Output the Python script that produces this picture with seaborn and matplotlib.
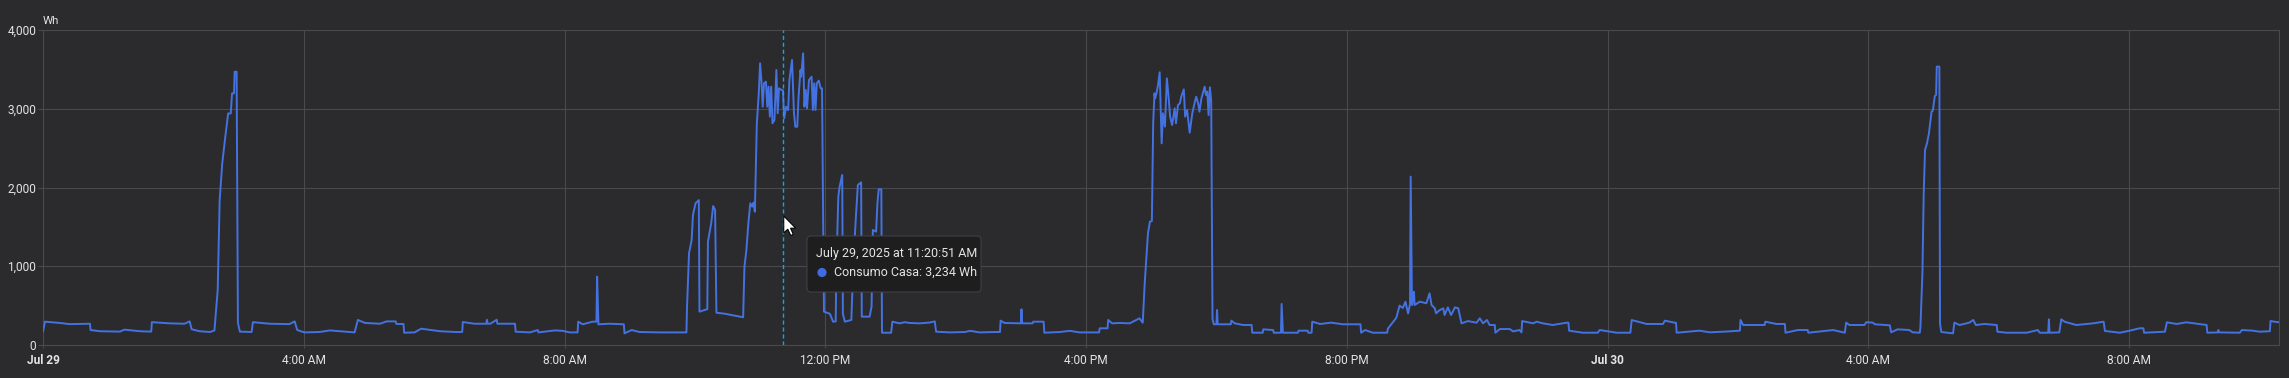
import matplotlib
matplotlib.use("Agg")
import matplotlib.pyplot as plt
import matplotlib.transforms as mtransforms
from matplotlib.patches import FancyBboxPatch, Circle, Polygon
import numpy as np
import pandas as pd
import seaborn as sns

# ---------------- data (hours since Jul 29 00:00, Wh) ----------------
hours = [
    0.00, 0.03, 0.26, 0.41, 0.72, 0.73, 0.87, 1.18, 1.25, 1.48, 1.66, 1.67, 1.94, 2.17, 2.25, 2.28,
    2.40, 2.56, 2.63, 2.68, 2.71, 2.75, 2.79, 2.84, 2.88, 2.90, 2.93, 2.94, 2.97, 2.99, 3.02, 3.20,
    3.22, 3.48, 3.78, 3.86, 3.90, 4.01, 4.24, 4.40, 4.55, 4.78, 4.83, 4.94, 5.17, 5.27, 5.41, 5.42,
    5.53, 5.54, 5.70, 5.80, 6.09, 6.32, 6.43, 6.44, 6.62, 6.80, 6.81, 6.82, 6.86, 6.96, 6.97, 7.24,
    7.25, 7.47, 7.59, 7.60, 7.85, 7.97, 8.08, 8.20, 8.21, 8.28, 8.43, 8.49, 8.50, 8.52, 8.69, 8.91,
    8.92, 9.03, 9.15, 9.46, 9.87, 9.88, 9.91, 9.95, 9.97, 10.01, 10.06, 10.07, 10.19, 10.20, 10.25, 10.28,
    10.31, 10.33, 10.46, 10.74, 10.76, 10.79, 10.82, 10.85, 10.88, 10.90, 10.92, 10.93, 10.95, 10.98, 11.00, 11.02,
    11.04, 11.06, 11.09, 11.11, 11.13, 11.15, 11.17, 11.19, 11.22, 11.25, 11.27, 11.29, 11.33, 11.35, 11.37, 11.40,
    11.43, 11.45, 11.49, 11.52, 11.54, 11.57, 11.59, 11.62, 11.63, 11.66, 11.68, 11.70, 11.72, 11.75, 11.79, 11.81,
    11.83, 11.85, 11.87, 11.90, 11.93, 11.95, 11.98, 12.07, 12.12, 12.16, 12.17, 12.20, 12.22, 12.26, 12.27, 12.30,
    12.40, 12.43, 12.47, 12.50, 12.55, 12.56, 12.68, 12.71, 12.73, 12.78, 12.80, 12.82, 12.86, 12.87, 13.01, 13.03,
    13.14, 13.22, 13.29, 13.45, 13.60, 13.68, 13.70, 13.91, 14.14, 14.22, 14.37, 14.60, 14.68, 14.69, 14.75, 15.00,
    15.01, 15.02, 15.18, 15.19, 15.35, 15.36, 15.60, 15.75, 15.90, 16.06, 16.20, 16.21, 16.33, 16.34, 16.40, 16.51,
    16.67, 16.72, 16.82, 16.87, 16.90, 16.95, 16.98, 17.01, 17.03, 17.05, 17.06, 17.08, 17.10, 17.13, 17.16, 17.18,
    17.21, 17.24, 17.27, 17.29, 17.32, 17.36, 17.38, 17.41, 17.44, 17.46, 17.50, 17.52, 17.55, 17.59, 17.63, 17.67,
    17.69, 17.72, 17.74, 17.77, 17.82, 17.84, 17.86, 17.88, 17.90, 17.92, 17.94, 17.96, 18.00, 18.01, 18.02, 18.22,
    18.23, 18.28, 18.41, 18.54, 18.55, 18.71, 18.72, 18.87, 18.88, 18.99, 19.00, 19.02, 19.25, 19.26, 19.40, 19.41,
    19.46, 19.47, 19.59, 19.76, 19.94, 20.21, 20.22, 20.28, 20.40, 20.62, 20.63, 20.76, 20.81, 20.86, 20.90, 20.94,
    20.97, 20.98, 21.00, 21.03, 21.04, 21.12, 21.22, 21.27, 21.30, 21.35, 21.37, 21.42, 21.48, 21.50, 21.55, 21.60,
    21.66, 21.71, 21.76, 21.86, 21.99, 22.04, 22.09, 22.15, 22.19, 22.27, 22.28, 22.35, 22.50, 22.55, 22.65, 22.68,
    22.69, 22.86, 22.91, 23.01, 23.16, 23.37, 23.40, 23.41, 23.62, 23.85, 23.88, 24.01, 24.14, 24.35, 24.37, 24.60,
    24.85, 24.88, 25.03, 25.05, 25.06, 25.41, 25.57, 25.80, 26.03, 26.04, 26.08, 26.41, 26.42, 26.59, 26.72, 26.73,
    26.92, 27.07, 27.08, 27.46, 27.64, 27.66, 27.71, 27.94, 27.97, 28.07, 28.10, 28.33, 28.35, 28.45, 28.63, 28.68,
    28.79, 28.80, 28.83, 28.85, 28.87, 28.90, 28.93, 28.97, 28.99, 29.02, 29.04, 29.05, 29.09, 29.10, 29.12, 29.30,
    29.32, 29.40, 29.55, 29.61, 29.65, 29.78, 29.97, 29.98, 30.12, 30.43, 30.60, 30.63, 30.76, 30.77, 30.78, 30.93,
    30.96, 31.01, 31.19, 31.45, 31.61, 31.63, 31.86, 32.01, 32.16, 32.22, 32.23, 32.55, 32.58, 32.73, 32.88, 33.19,
    33.20, 33.36, 33.37, 33.38, 33.70, 33.73, 33.90, 34.00, 34.16, 34.17, 34.23, 34.30,
]
consumo_wh = [
    170, 296, 280, 265, 270, 190, 175, 170, 195, 175, 170, 290, 275, 270, 300, 200,
    175, 165, 185, 700, 1840, 2310, 2600, 2940, 2940, 3195, 3195, 3470, 3470, 280, 170, 165,
    290, 270, 265, 300, 190, 160, 165, 185, 175, 160, 318, 280, 270, 300, 300, 267,
    267, 156, 160, 207, 175, 165, 165, 292, 270, 270, 320, 270, 270, 320, 270, 270,
    169, 160, 190, 160, 185, 180, 160, 160, 296, 263, 296, 296, 868, 263, 270, 263,
    148, 190, 165, 160, 160, 500, 1165, 1333, 1650, 1800, 1840, 423, 455, 1312, 1545, 1765,
    1714, 410, 397, 352, 995, 1206, 1545, 1800, 1757, 1808, 1693, 2053, 2815, 3196, 3577, 3365,
    3026, 3323, 3344, 3026, 3280, 2900, 3280, 2815, 2857, 3492, 2942, 3259, 3238, 3234, 2878, 3026,
    2984, 3365, 3619, 2942, 2772, 2772, 3153, 3492, 3407, 3704, 3026, 3238, 3005, 3365, 3407, 2984,
    3323, 2984, 3323, 3357, 3259, 3259, 423, 397, 296, 300, 952, 1884, 2011, 2159, 397, 296,
    318, 1036, 1630, 2032, 2066, 360, 360, 487, 1460, 1440, 1800, 1977, 1977, 156, 156, 296,
    275, 290, 280, 275, 285, 300, 169, 160, 165, 180, 160, 165, 165, 309, 280, 275,
    453, 275, 275, 296, 296, 156, 165, 180, 160, 160, 160, 212, 212, 318, 275, 280,
    275, 296, 339, 283, 783, 1418, 1566, 1575, 2815, 3196, 3132, 3196, 3280, 3463, 2561, 2942,
    2773, 3386, 3111, 2900, 2794, 3005, 2815, 3047, 3069, 3153, 3246, 2900, 2984, 2697, 2942, 3090,
    3153, 3069, 2963, 3132, 3280, 3174, 3217, 2920, 3272, 3100, 330, 263, 263, 445, 263, 263,
    309, 275, 254, 254, 156, 156, 199, 190, 156, 156, 521, 156, 156, 182, 182, 156,
    156, 296, 267, 284, 263, 263, 156, 190, 156, 156, 207, 346, 500, 470, 550, 400,
    520, 2138, 508, 677, 508, 550, 530, 656, 508, 466, 402, 440, 466, 381, 478, 381,
    478, 466, 275, 304, 283, 339, 275, 318, 254, 254, 156, 203, 203, 173, 190, 160,
    304, 275, 296, 275, 254, 283, 283, 182, 156, 156, 190, 173, 156, 156, 317, 267,
    267, 309, 283, 283, 156, 182, 161, 170, 182, 318, 254, 254, 296, 267, 267, 156,
    190, 190, 156, 190, 156, 284, 254, 254, 290, 284, 263, 250, 161, 199, 190, 161,
    156, 237, 910, 1926, 2476, 2561, 2688, 2963, 2976, 3162, 3174, 3535, 3535, 270, 165, 148,
    284, 254, 284, 318, 254, 267, 254, 169, 156, 156, 190, 156, 156, 326, 156, 160,
    326, 296, 254, 275, 296, 178, 156, 182, 212, 212, 156, 169, 288, 267, 288, 254,
    156, 160, 190, 160, 156, 190, 182, 169, 175, 305, 296, 288,
]

tick_hours = [0, 4, 8, 12, 16, 20, 24, 28, 32]
tick_labels = ["Jul 29", "4:00 AM", "8:00 AM", "12:00 PM", "4:00 PM", "8:00 PM",
               "Jul 30", "4:00 AM", "8:00 AM"]
bold_ticks = ["Jul 29", "Jul 30"]
y_ticks = [0, 1000, 2000, 3000, 4000]
x_end_hour = 34.30
unit_label = "Wh"
series_name = "Consumo Casa"
hover_hour = 11 + 20 / 60 + 51 / 3600
hover_title = "July 29, 2025 at 11:20:51 AM"
hover_value = 3234

# ---------------- style ----------------
W, H, DPI = 2289, 378, 100
BG = "#2b2b2e"
GRID = "#4a4a4d"
TXT = "#e4e4e4"
LINE = "#4472e0"
HOVER = "#03a9f4"

sns.set_theme(style="dark")
plt.rcParams["font.family"] = ["Roboto", "DejaVu Sans"]

fig = plt.figure(figsize=(W / DPI, H / DPI), dpi=DPI, facecolor=BG)
ax = fig.add_axes([43 / W, 1 - 345 / H, (2279 - 43) / W, 315 / H])
ax.set_facecolor(BG)

df = pd.DataFrame({"hour": hours, "wh": consumo_wh})
sns.lineplot(data=df, x="hour", y="wh", ax=ax, color=LINE, linewidth=1.4,
             estimator=None, sort=False, zorder=3)

ax.set_xlim(0, x_end_hour)
ax.set_ylim(0, 4000)
ax.set_xticks(tick_hours)
ax.set_xticklabels(tick_labels)
ax.set_yticks(y_ticks)
ax.set_yticklabels([f"{v:,}" for v in y_ticks])
ax.set_xlabel("")
ax.set_ylabel("")
ax.set_axisbelow(True)
ax.grid(True, color=GRID, linewidth=0.8)
for s in ax.spines.values():
    s.set_color(GRID)
    s.set_linewidth(0.8)
    s.set_visible(True)
ax.spines["top"].set_visible(False)

ax.tick_params(axis="y", length=3.8, width=0.8, color=GRID, pad=1,
               labelsize=8.6, labelcolor=TXT, left=True)
ax.tick_params(axis="x", length=2.5, width=0.8, color=GRID, pad=4,
               labelsize=8.6, labelcolor=TXT, bottom=True)
for lab in ax.get_xticklabels():
    if lab.get_text() in bold_ticks:
        lab.set_fontweight("bold")

fig.text(43 / W, 1 - 21 / H, unit_label, color=TXT, fontsize=8.2,
         ha="left", va="center")

# hover line
ax.axvline(hover_hour, color=HOVER, linewidth=1.0, linestyle=(0, (3, 2)), zorder=4)

# cursor arrow (pixel space)
ident = mtransforms.IdentityTransform()
tipx = ax.transData.transform((hover_hour, 0))[0] + 1
tipy = H - 216
arrow = np.array([(0, 0), (0, -17), (4, -13.2), (7, -19.5), (9.6, -18.4),
                  (6.8, -12.2), (12, -12.2)])
arrow[:, 0] += tipx
arrow[:, 1] += tipy
fig.add_artist(Polygon(arrow, closed=True, facecolor="white", edgecolor="black",
                       linewidth=0.8, transform=ident, zorder=10))

# tooltip
box = FancyBboxPatch((807, H - 292), 174, 56, boxstyle="round,pad=0,rounding_size=4",
                     facecolor="#1e1e1f", edgecolor="#404042", linewidth=0.8,
                     transform=ident, zorder=11)
fig.add_artist(box)
fig.text(816 / W, 1 - 254 / H, hover_title, color=TXT, fontsize=9.0,
         ha="left", va="center", zorder=12)
fig.add_artist(Circle((822, H - 272.5), 4.6, facecolor="#4169e1", edgecolor="none",
                      transform=ident, zorder=12))
fig.text(834 / W, 1 - 272.5 / H, f"{series_name}: {hover_value:,} {unit_label}",
         color=TXT, fontsize=9.0, ha="left", va="center", zorder=12)

fig.savefig("out.png", dpi=DPI, facecolor=BG)
